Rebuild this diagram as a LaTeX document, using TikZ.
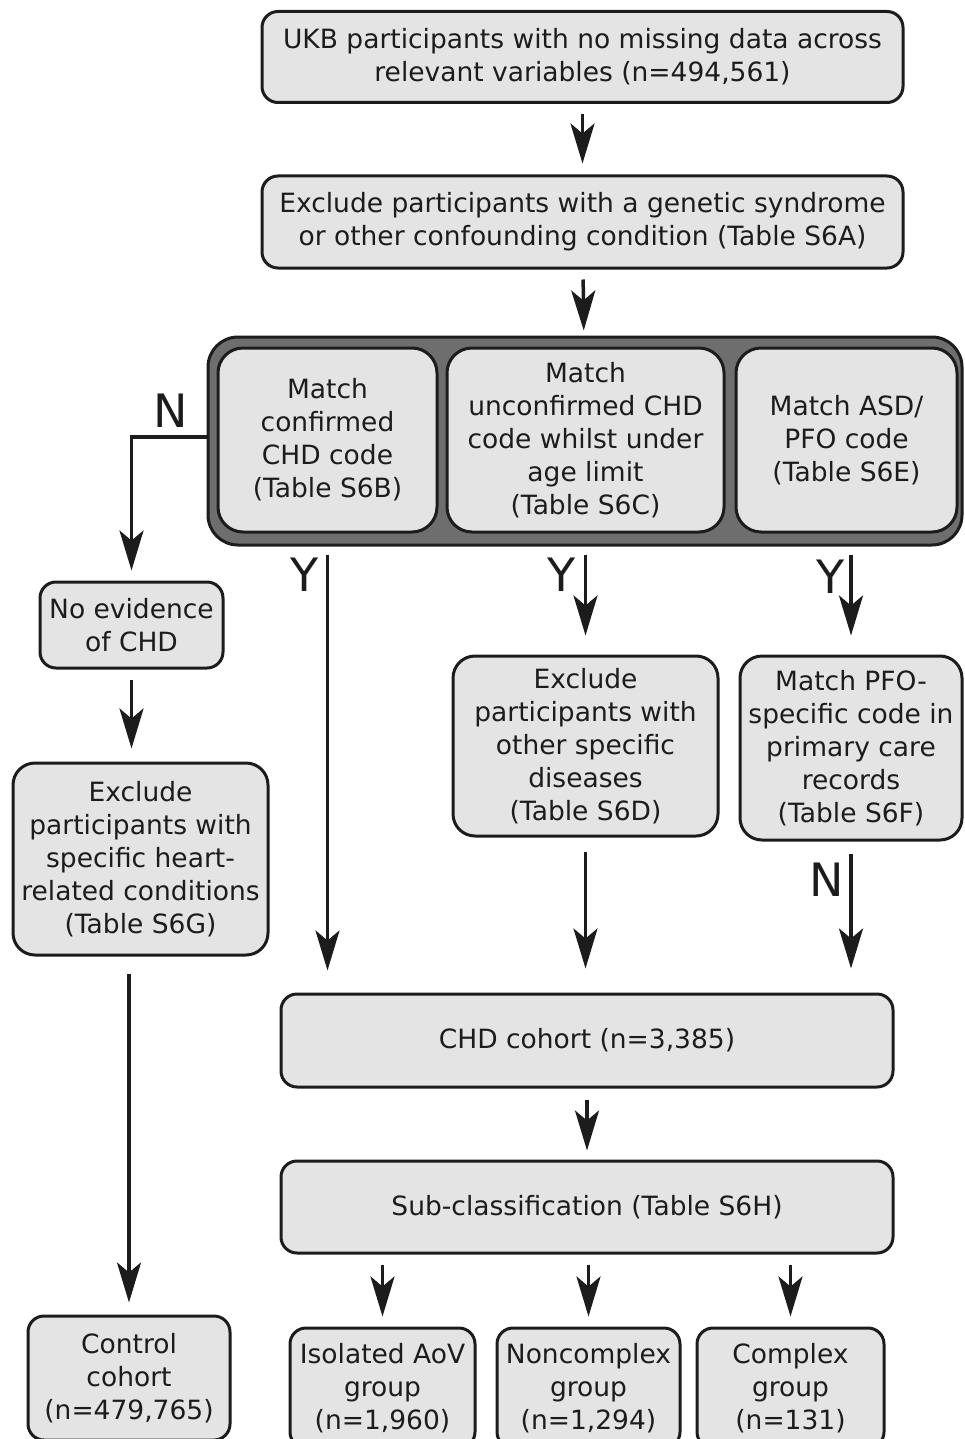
\documentclass[tikz,border=0pt]{standalone}
\usepackage{fontspec}
\setmainfont{DejaVu Sans}
\usepackage{tikz}
\usepackage{tkz-euclide}
\usepackage{xcolor}
\usetikzlibrary{arrows.meta}

\definecolor{cinzaclaro}{HTML}{E4E4E4}
\definecolor{cinzaescuro}{HTML}{6E6E6E}
\definecolor{tinta}{HTML}{1C1C1C}

\tikzset{
  caixa/.style={draw=tinta, line width=3pt, fill=cinzaclaro, rounded corners=16pt,
    align=center, text=tinta, inner sep=0pt, font=\fontsize{26.5}{33}\selectfont},
  moldura/.style={draw=tinta, line width=3pt, fill=cinzaescuro, rounded corners=30pt, inner sep=0pt},
  seta/.style={draw=tinta, line width=3.5pt, -{Stealth[length=40pt,width=24pt,inset=10pt]}},
  rotulo/.style={text=tinta, inner sep=0pt, font=\fontsize{46}{50}\selectfont},
}

\begin{document}
\begin{tikzpicture}[x=1pt, y=-1pt] %unidades em pixels, eixo y para baixo

\useasboundingbox (0,0) rectangle (964,1439);
\clip (0,0) rectangle (964,1439);

%Os centros das caixas sao definidos com \tkzDefPoints (x/y/NomedoPonto)
\tkzDefPoints{
582.5/57/A,
582.5/222/B,
585/441/G,
327.5/440/G1,
585.5/440/G2,
846.5/440/G3,
131.5/625/C,
140.5/859/D,
585.5/746/E,
851/748/F,
587/1040.5/H,
587/1207/I,
129/1378/J,
382.5/1388/K,
588.5/1388/L,
790.5/1388/M}

%Caixas do topo
%---------------------------------------------------
\node[caixa, minimum width=641pt, minimum height=91pt] (ukb) at (A) {UKB participants with no missing data across\\relevant variables (n=494,561)};
\node[caixa, minimum width=641pt, minimum height=92pt] (excl) at (B) {Exclude participants with a genetic syndrome\\or other confounding condition (Table S6A)};
%---------------------------------------------------

%Moldura escura com os tres criterios
%---------------------------------------------------
\node[moldura, minimum width=754pt, minimum height=208pt] (grupo) at (G) {};
\node[caixa, rounded corners=25pt, minimum width=219pt, minimum height=184pt] (conf) at (G1) {Match\\confirmed\\CHD code\\(Table S6B)};
\node[caixa, rounded corners=25pt, minimum width=277pt, minimum height=184pt] (unconf) at (G2) {Match\\unconfirmed CHD\\code whilst under\\age limit\\(Table S6C)};
\node[caixa, rounded corners=25pt, minimum width=221pt, minimum height=184pt] (asd) at (G3) {Match ASD/\\PFO code\\(Table S6E)};
%---------------------------------------------------

%Ramo de controle (esquerda)
%---------------------------------------------------
\node[caixa, minimum width=183pt, minimum height=86pt] (nev) at (C) {No evidence\\of CHD};
\node[caixa, rounded corners=22pt, minimum width=255pt, minimum height=192pt] (coracao) at (D) {Exclude\\participants with\\specific heart-\\related conditions\\(Table S6G)};
\node[caixa, minimum width=202pt, minimum height=124pt] (ctrl) at (J) {Control\\cohort\\(n=479,765)};
%---------------------------------------------------

%Ramo CHD
%---------------------------------------------------
\node[caixa, rounded corners=22pt, minimum width=265pt, minimum height=180pt] (outras) at (E) {Exclude\\participants with\\other specific\\diseases\\(Table S6D)};
\node[caixa, rounded corners=22pt, minimum width=222pt, minimum height=184pt] (pfo) at (F) {Match PFO-\\specific code in\\primary care\\records\\(Table S6F)};
\node[caixa, minimum width=612pt, minimum height=93pt] (chd) at (H) {CHD cohort (n=3,385)};
\node[caixa, minimum width=612pt, minimum height=92pt] (sub) at (I) {Sub-classification (Table S6H)};
\node[caixa, minimum width=185pt, minimum height=120pt] (iso) at (K) {Isolated AoV\\group\\(n=1,960)};
\node[caixa, minimum width=183pt, minimum height=120pt] (nonc) at (L) {Noncomplex\\group\\(n=1,294)};
\node[caixa, minimum width=187pt, minimum height=120pt] (comp) at (M) {Complex\\group\\(n=131)};
%---------------------------------------------------

%Setas principais
%---------------------------------------------------
\draw[seta, shorten <=10pt, shorten >=11pt] (ukb) -- (excl);
\draw[seta, shorten <=10pt, shorten >=5pt] (excl) -- (grupo);
\draw[seta, shorten >=10pt] ([yshift=4pt]grupo.west) -| (nev.north);
\draw[seta, shorten <=10pt, shorten >=13pt] (nev.south) -- (nev.south |- coracao.north);
\draw[seta, shorten <=17pt, shorten >=12pt] (ctrl.north |- coracao.south) -- (ctrl.north);
%---------------------------------------------------

%Setas dos criterios ate a coorte CHD
%---------------------------------------------------
\draw[seta, shorten <=8pt, shorten >=22pt] (conf.south |- grupo.south) -- (conf.south |- chd.north);
\draw[seta, shorten <=8pt, shorten >=19pt] (outras.north |- grupo.south) -- (outras.north);
\draw[seta, shorten <=8pt, shorten >=19pt] (pfo.north |- grupo.south) -- (pfo.north);
\draw[seta, shorten <=14pt, shorten >=24pt] (outras.south) -- (outras.south |- chd.north);
\draw[seta, shorten <=12pt, shorten >=24pt] (pfo.south) -- (pfo.south |- chd.north);
%---------------------------------------------------

%Subclassificacao
%---------------------------------------------------
\draw[seta, shorten <=11pt, shorten >=9pt] (chd) -- (sub);
\draw[seta, shorten <=10pt, shorten >=10pt] (iso.north |- sub.south) -- (iso.north);
\draw[seta, shorten <=10pt, shorten >=10pt] (nonc.north |- sub.south) -- (nonc.north);
\draw[seta, shorten <=10pt, shorten >=10pt] (comp.north |- sub.south) -- (comp.north);
%---------------------------------------------------

%Rotulos Y e N
%---------------------------------------------------
\node[rotulo] (naoA) at (171,411) {N};
\node[rotulo] (simA) at (305,575) {Y};
\node[rotulo] (simB) at (562,575) {Y};
\node[rotulo] (simC) at (831,577) {Y};
\node[rotulo] (naoB) at (827,880) {N};
%---------------------------------------------------

\end{tikzpicture}
\end{document}
